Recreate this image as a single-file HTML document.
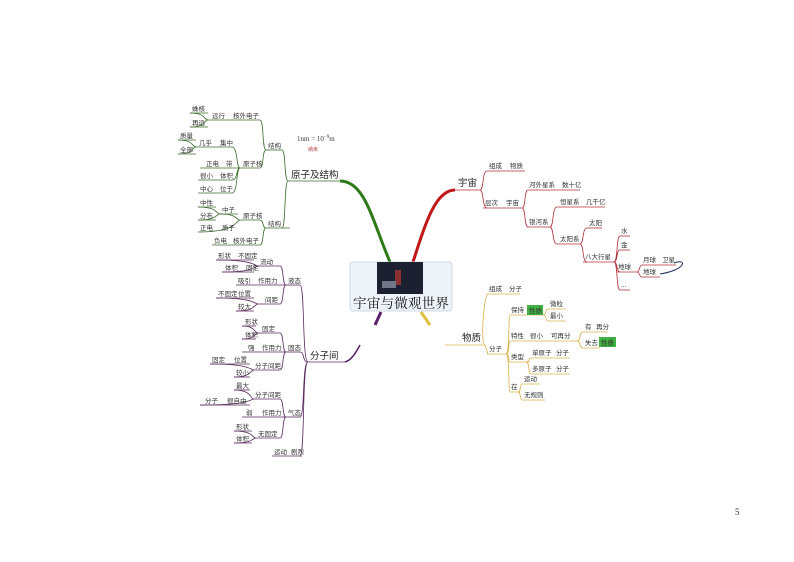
<!DOCTYPE html>
<html><head><meta charset="utf-8"><style>
body{margin:0;background:#fff}
svg{display:block}
text{font-family:"Liberation Sans","Noto Sans CJK SC",sans-serif;font-size:6.5px;fill:#333}
.b{font-size:9.5px;fill:#222}
.g path,.g line{stroke:#3c6e2c;fill:none;stroke-width:0.8}
.p path,.p line{stroke:#5a2b5e;fill:none;stroke-width:0.8}
.r path,.r line{stroke:#b0303a;fill:none;stroke-width:0.8}
.y path,.y line{stroke:#d8b048;fill:none;stroke-width:0.8}
</style></head><body>
<svg width="794" height="562" viewBox="0 0 794 562" xmlns="http://www.w3.org/2000/svg">
<path d="M340,181 C365,181 372,220 390,262" stroke="#2e7a18" stroke-width="3" fill="none"/>
<path d="M455,190 C435,190 425,225 413,262" stroke="#c01818" stroke-width="3" fill="none"/>
<path d="M381,312 L375,325" stroke="#5a1e6a" stroke-width="3" fill="none"/>
<path d="M421,312 L430,325" stroke="#e0c040" stroke-width="3" fill="none"/>
<path d="M345,362 C352,360 356,352 360,345" stroke="#5a1e6a" stroke-width="1.5" fill="none"/>

<rect x="350" y="262" width="102" height="49" fill="#eef3fa" stroke="#cfd8e4" rx="3"/>
<rect x="377" y="262" width="46" height="32" fill="#1c2030"/>
<rect x="395" y="270" width="6" height="15" fill="#8a3030"/>
<rect x="382" y="281" width="14" height="7" fill="#707888"/>
<text x="401" y="308" text-anchor="middle" textLength="96" lengthAdjust="spacingAndGlyphs" style="font-family:'Noto Serif CJK SC',serif;font-size:13.5px;fill:#111">宇宙与微观世界</text>

<g class="g">
<line x1="288" y1="181" x2="340" y2="181"/>
<text class="b" x="291" y="178">原子及结构</text>
<path d="M288,181 C284,181 286,150 282,150 M288,181 C284,181 286,228 282,228"/>
<line x1="266" y1="150" x2="282" y2="150"/><text x="268" y="148">结构</text>
<line x1="266" y1="228" x2="290" y2="228"/><text x="268" y="226">结构</text>
<path d="M266,150 C262,150 264,120 260,120 M266,150 C262,150 264,168 260,168"/>
<line x1="208" y1="120" x2="260" y2="120"/><text x="212" y="118">远行</text><text x="233" y="118">核外电子</text>
<path d="M208,120 C204,120 206,113 190,113 M208,120 C204,120 206,127 190,127"/>
<line x1="190" y1="113" x2="208" y2="113"/><text x="192" y="111">蛛核</text>
<line x1="190" y1="127" x2="208" y2="127"/><text x="192" y="125">再远</text>
<line x1="240" y1="168" x2="260" y2="168"/><text x="243" y="166">原子核</text>
<path d="M240,168 C236,168 238,147 232,147 M240,168 C236,168 238,180 232,180 M240,168 C236,168 238,193 232,193 M240,168 L200,168"/>
<line x1="196" y1="147" x2="232" y2="147"/><text x="199" y="145">几乎</text><text x="220" y="145">集中</text>
<path d="M196,147 C192,147 194,140 178,140 M196,147 C192,147 194,154 178,154"/>
<line x1="178" y1="140" x2="196" y2="140"/><text x="180" y="138">质量</text>
<line x1="178" y1="154" x2="196" y2="154"/><text x="180" y="152">全部</text>
<text x="206" y="166">正电</text><text x="226" y="166">带</text>
<line x1="198" y1="180" x2="232" y2="180"/><text x="200" y="178">很小</text><text x="220" y="178">体积</text>
<line x1="198" y1="193" x2="232" y2="193"/><text x="200" y="191">中心</text><text x="220" y="191">位于</text>
<path d="M266,228 C262,228 264,220 260,220 M266,228 C262,228 264,245 260,245"/>
<line x1="240" y1="220" x2="260" y2="220"/><text x="243" y="218">原子核</text>
<path d="M240,220 C236,220 238,214 220,214 M240,220 C236,220 238,232 198,232"/>
<line x1="220" y1="214" x2="238" y2="214"/><text x="222" y="212">中子</text>
<path d="M220,214 C216,214 218,207 198,207 M220,214 C216,214 218,220 198,220"/>
<line x1="198" y1="207" x2="216" y2="207"/><text x="200" y="205">中性</text>
<line x1="198" y1="220" x2="216" y2="220"/><text x="200" y="218">分布</text>
<text x="200" y="230">正电</text><text x="222" y="230">质子</text>
<line x1="212" y1="245" x2="260" y2="245"/><text x="214" y="243">负电</text><text x="233" y="243">核外电子</text>
</g>
<text x="297" y="141" style="font-family:'Liberation Serif',serif;font-size:7px">1nm = 10<tspan dy="-3" style="font-size:5px">−9</tspan><tspan dy="3">m</tspan></text>
<text x="308" y="151" style="font-size:5px;fill:#b03030">纳米</text>

<g class="p">
<line x1="308" y1="362" x2="345" y2="362"/>
<text class="b" x="310" y="359">分子间</text>
<path d="M308,362 C302,362 305,285 300,285 M308,362 C302,362 305,352 300,352 M308,362 C302,362 305,417 300,417 M308,362 C302,362 305,456 300,456"/>
<line x1="286" y1="285" x2="300" y2="285"/><text x="288" y="283">液态</text>
<line x1="286" y1="352" x2="300" y2="352"/><text x="288" y="350">固态</text>
<line x1="286" y1="417" x2="300" y2="417"/><text x="288" y="415">气态</text>
<line x1="272" y1="456" x2="302" y2="456"/><text x="274" y="454">运动</text><text x="291" y="454">剧烈</text>
<path d="M286,285 C282,285 284,266 280,266 M286,285 L236,285 M286,285 C282,285 284,304 280,304"/>
<line x1="258" y1="266" x2="280" y2="266"/><text x="260" y="264">流动</text>
<path d="M258,266 C254,266 256,260 216,260 M258,266 C254,266 256,272 222,272"/>
<line x1="216" y1="260" x2="254" y2="260"/><text x="218" y="258">形状</text><text x="238" y="258">不固定</text>
<line x1="222" y1="272" x2="254" y2="272"/><text x="225" y="270">体积</text><text x="246" y="270">固定</text>
<text x="238" y="283">吸引</text><text x="258" y="283">作用力</text>
<line x1="258" y1="304" x2="280" y2="304"/><text x="265" y="302">间距</text>
<path d="M258,304 C254,304 256,298 216,298 M258,304 C254,304 256,311 236,311"/>
<line x1="216" y1="298" x2="254" y2="298"/><text x="218" y="296">不固定</text><text x="238" y="296">位置</text>
<line x1="236" y1="311" x2="254" y2="311"/><text x="238" y="309">较大</text>
<path d="M286,352 C282,352 284,333 280,333 M286,352 L242,352 M286,352 C282,352 284,370 280,370"/>
<line x1="258" y1="333" x2="280" y2="333"/><text x="262" y="331">固定</text>
<path d="M258,333 C254,333 256,326 242,326 M258,333 C254,333 256,339 242,339"/>
<line x1="242" y1="326" x2="256" y2="326"/><text x="245" y="324">形状</text>
<line x1="242" y1="339" x2="256" y2="339"/><text x="245" y="337">体积</text>
<text x="248" y="350">强</text><text x="262" y="350">作用力</text>
<line x1="254" y1="370" x2="280" y2="370"/><text x="255" y="368">分子间距</text>
<path d="M254,370 C250,370 252,364 210,364 M254,370 C250,370 252,377 234,377"/>
<line x1="210" y1="364" x2="250" y2="364"/><text x="212" y="362">固定</text><text x="234" y="362">位置</text>
<line x1="234" y1="377" x2="250" y2="377"/><text x="236" y="375">较小</text>
<path d="M286,417 C282,417 284,399 280,399 M286,417 L242,417 M286,417 C282,417 284,438 280,438"/>
<line x1="254" y1="399" x2="280" y2="399"/><text x="255" y="397">分子间距</text>
<path d="M254,399 C250,399 252,390 234,390 M254,399 C250,399 252,405 200,405"/>
<line x1="234" y1="390" x2="250" y2="390"/><text x="236" y="388">最大</text>
<line x1="200" y1="405" x2="250" y2="405"/><text x="205" y="403">分子</text><text x="227" y="403">很自由</text>
<text x="246" y="415">弱</text><text x="262" y="415">作用力</text>
<line x1="256" y1="438" x2="280" y2="438"/><text x="258" y="436">无固定</text>
<path d="M256,438 C252,438 254,431 234,431 M256,438 C252,438 254,443 234,443"/>
<line x1="234" y1="431" x2="252" y2="431"/><text x="236" y="429">形状</text>
<line x1="234" y1="443" x2="252" y2="443"/><text x="236" y="441">体积</text>
</g>

<g class="r">
<line x1="455" y1="190" x2="480" y2="190"/>
<text class="b" x="458" y="186">宇宙</text>
<path d="M480,190 C484,190 482,171 487,171 M480,190 C484,190 482,208 487,208"/>
<line x1="487" y1="171" x2="525" y2="171"/><text x="489" y="168">组成</text><text x="510" y="168">物质</text>
<line x1="483" y1="208" x2="522" y2="208"/><text x="485" y="205">层次</text><text x="506" y="205">宇宙</text>
<path d="M522,208 C526,208 524,190 528,190 M522,208 C526,208 524,227 528,227"/>
<line x1="528" y1="190" x2="580" y2="190"/><text x="529" y="187">河外星系</text><text x="562" y="187">数十亿</text>
<line x1="527" y1="227" x2="550" y2="227"/><text x="529" y="224">银河系</text>
<path d="M550,227 C554,227 552,207 557,207 M550,227 C554,227 552,244 557,244"/>
<line x1="557" y1="207" x2="605" y2="207"/><text x="560" y="204">恒星系</text><text x="586" y="204">几千亿</text>
<line x1="557" y1="244" x2="580" y2="244"/><text x="560" y="241">太阳系</text>
<path d="M580,244 C584,244 582,228 587,228 M580,244 C584,244 582,262 587,262"/>
<line x1="587" y1="228" x2="602" y2="228"/><text x="589" y="225">太阳</text>
<line x1="583" y1="262" x2="614" y2="262"/><text x="585" y="259">八大行星</text>
<path d="M614,262 C618,262 616,236 620,236 M614,262 C618,262 616,250 620,250 M614,262 C618,262 616,272 620,272 M614,262 C618,262 616,290 620,290"/>
<line x1="620" y1="236" x2="630" y2="236"/><text x="621" y="233">水</text>
<line x1="620" y1="250" x2="630" y2="250"/><text x="621" y="247">金</text>
<line x1="617" y1="272" x2="637" y2="272"/><text x="618" y="269">地球</text>
<line x1="620" y1="290" x2="630" y2="290"/><text x="621" y="287">...</text>
<path d="M637,272 C640,272 639,265 642,265 M637,272 C640,272 639,277 642,277"/>
<line x1="642" y1="265" x2="676" y2="265"/><text x="643" y="262">月球</text><text x="662" y="262">卫星</text>
<line x1="642" y1="277" x2="660" y2="277"/><text x="643" y="274">地球</text>
</g>
<path d="M674,263 C688,258 686,270 660,274" stroke="#223060" stroke-width="1" fill="none"/>

<g class="y">
<line x1="445" y1="345" x2="485" y2="345"/>
<text class="b" x="462" y="341">物质</text>
<path d="M485,345 C480,345 484,294 488,294 M485,345 L488,354"/>
<line x1="487" y1="294" x2="520" y2="294"/><text x="489" y="291">组成</text><text x="509" y="291">分子</text>
<line x1="487" y1="354" x2="508" y2="354"/><text x="489" y="351">分子</text>
<path d="M506,354 C510,354 508,315 510,315 M506,354 C510,354 508,341 510,341 M506,354 C510,354 508,362 510,362 M506,354 C510,354 508,392 510,392"/>
<line x1="510" y1="315" x2="543" y2="315"/><text x="511" y="312">保持</text>
<rect x="527" y="305" width="16" height="10" fill="#40b040"/><text x="529" y="313">性质</text>
<path d="M543,315 C547,315 545,309 548,309 M543,315 C547,315 545,321 548,321"/>
<line x1="548" y1="309" x2="566" y2="309"/><text x="550" y="306">微粒</text>
<line x1="548" y1="321" x2="566" y2="321"/><text x="550" y="318">最小</text>
<line x1="510" y1="341" x2="577" y2="341"/><text x="511" y="338">特性</text><text x="530" y="338">很小</text><text x="551" y="338">可再分</text>
<path d="M577,341 C581,341 579,332 583,332 M577,341 C581,341 579,348 583,348"/>
<line x1="583" y1="332" x2="608" y2="332"/><text x="585" y="329">有</text><text x="596" y="329">再分</text>
<line x1="583" y1="348" x2="600" y2="348"/><text x="585" y="345">失去</text>
<rect x="599" y="337" width="17" height="10" fill="#40b040"/><text x="601" y="345">性质</text>
<line x1="510" y1="362" x2="530" y2="362"/><text x="511" y="359">类型</text>
<path d="M526,362 C530,362 528,358 531,358 M526,362 C530,362 528,374 531,374"/>
<line x1="531" y1="358" x2="570" y2="358"/><text x="532" y="355">单原子</text><text x="556" y="355">分子</text>
<line x1="531" y1="374" x2="570" y2="374"/><text x="532" y="371">多原子</text><text x="556" y="371">分子</text>
<line x1="510" y1="392" x2="520" y2="392"/><text x="511" y="389">在</text>
<path d="M518,392 C521,392 520,384 522,384 M518,392 C521,392 520,400 522,400"/>
<line x1="522" y1="384" x2="540" y2="384"/><text x="524" y="381">运动</text>
<line x1="522" y1="400" x2="545" y2="400"/><text x="524" y="397">无规则</text>
</g>

<text x="735" y="515" style="font-family:'Liberation Serif',serif;font-size:9px">5</text>
</svg>
</body></html>
